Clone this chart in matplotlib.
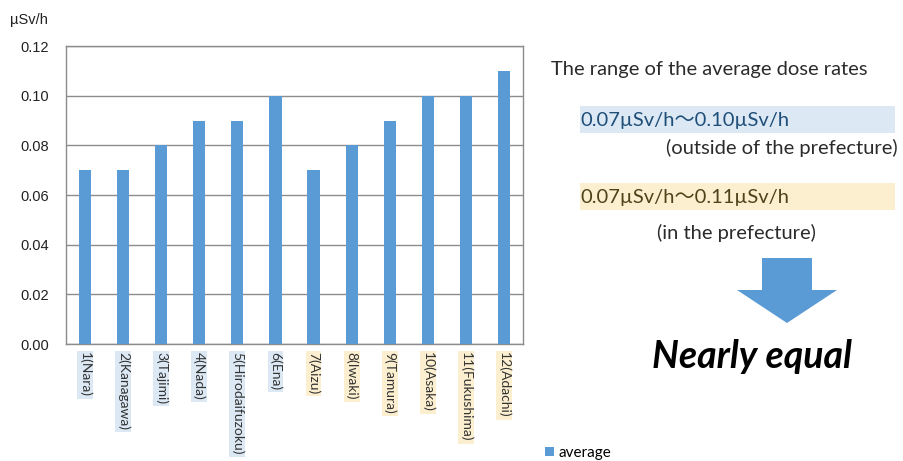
import matplotlib.pyplot as plt
from matplotlib.patches import Rectangle, Polygon

# average dose rate per measuring site (uSv/h)
sites = ["1(Nara)", "2(Kanagawa)", "3(Tajimi)", "4(Nada)", "5(Hirodaifuzoku)", "6(Ena)",
         "7(Aizu)", "8(Iwaki)", "9(Tamura)", "10(Asaka)", "11(Fukushima)", "12(Adachi)"]
average = [0.07, 0.07, 0.08, 0.09, 0.09, 0.10, 0.07, 0.08, 0.09, 0.10, 0.10, 0.11]
# first six sites are outside Fukushima prefecture, the rest inside
inside = [False] * 6 + [True] * 6
yticks = [0.00, 0.02, 0.04, 0.06, 0.08, 0.10, 0.12]

bar_col = "#5b9bd5"
out_bg = "#dce9f5"
in_bg = "#fcefd0"

fig = plt.figure(figsize=(9.04, 4.61), dpi=100)
ax = fig.add_axes([66 / 904, 1 - 344 / 461, 457 / 904, 298 / 461])

x = range(len(sites))
ax.bar(x, average, width=0.32, color=bar_col, label="average", zorder=3)
ax.set_xlim(-0.5, len(sites) - 0.5)
ax.set_ylim(0, 0.12)
ax.set_yticks(yticks)
ax.set_yticklabels(["%.2f" % v for v in yticks], fontsize=10.5, family="Liberation Sans",
                   color="#222222")
ax.yaxis.grid(True, color="#8c8c8c", lw=1.0, zorder=0)
for s in ax.spines.values():
    s.set_color("#8c8c8c")
    s.set_linewidth(1.0)
ax.tick_params(length=0, pad=12)

ax.set_xticks(list(x))
ax.set_xticklabels(sites, rotation=270, fontsize=10, family="Lato", color="#333333")
ax.tick_params(axis="x", pad=6)
for lab, ins in zip(ax.get_xticklabels(), inside):
    lab.set_va("top")
    lab.set_ha("center")
    lab.set_bbox(dict(facecolor=in_bg if ins else out_bg, edgecolor="none", pad=1.2))

fig.text(10 / 904, 1 - 20 / 461, "µSv/h", fontsize=10.5, family="Liberation Sans",
         va="center", ha="left", color="#222222")

fig.legend(loc="center left", bbox_to_anchor=(545 / 904, 1 - 453 / 461), frameon=False,
           handlelength=0.6, handleheight=0.6, handletextpad=0.3, borderpad=0,
           borderaxespad=0, prop={"family": "Lato", "size": 11})

# right-hand panel, laid out in pixel coordinates
ov = fig.add_axes([0, 0, 1, 1], facecolor="none")
ov.set_xlim(0, 904)
ov.set_ylim(461, 0)
ov.axis("off")

txt = dict(fontsize=14.5, family="Lato", va="center")

ov.text(551, 69, "The range of the average dose rates", color="#2b2b2b", ha="left", **txt)

ov.add_patch(Rectangle((580, 106), 315, 27, facecolor=out_bg, edgecolor="none"))
ov.text(580, 120, "0.07µSv/h〜0.10µSv/h", fontsize=14.5, va="center", ha="left",
        family=["Lato", "Noto Sans CJK JP"], color="#1f4e79")
ov.text(898, 148, "(outside of the prefecture)", color="#2b2b2b", ha="right", **txt)

ov.add_patch(Rectangle((580, 183), 315, 27, facecolor=in_bg, edgecolor="none"))
ov.text(580, 197, "0.07µSv/h〜0.11µSv/h", fontsize=14.5, va="center", ha="left",
        family=["Lato", "Noto Sans CJK JP"], color="#4d4319")
ov.text(736, 233, "(in the prefecture)", color="#2b2b2b", ha="center", **txt)

ov.add_patch(Polygon([(762, 258), (812, 258), (812, 290), (837, 290), (787, 323),
                      (737, 290), (762, 290)], closed=True, facecolor=bar_col,
                     edgecolor="none"))

ov.text(752, 356, "Nearly equal", fontsize=27, family="Lato", weight="bold",
        style="italic", color="black", va="center", ha="center")

fig.savefig("out.png", dpi=100)
